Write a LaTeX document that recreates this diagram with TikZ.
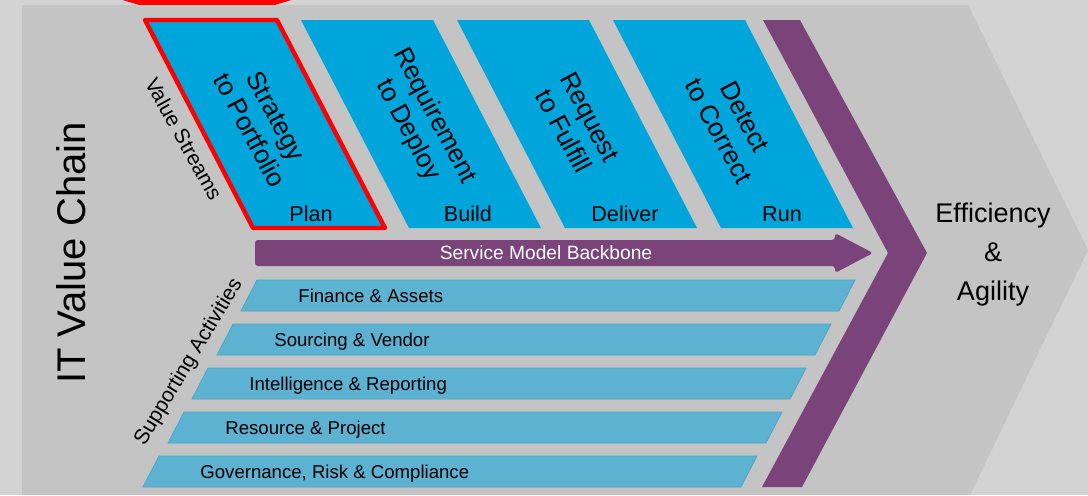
\documentclass[tikz,border=0pt]{standalone}
\usepackage{fontspec}
\setmainfont{Liberation Sans}
\usetikzlibrary{positioning}
\definecolor{pagegrey}{RGB}{211,211,211}
\definecolor{chevgrey}{RGB}{196,196,196}
\definecolor{streamblue}{RGB}{0,165,220}
\definecolor{barblue}{RGB}{94,178,209}
\definecolor{barline}{RGB}{72,168,205}
\definecolor{chainpurple}{RGB}{122,67,122}
\begin{document}
\begin{tikzpicture}[x=0.5pt, y=-0.5pt, node distance=19.5pt,
    stream/.style={fill=streamblue},
    actbar/.style={fill=barblue, draw=barline, line width=0.4pt},
    streamtext/.style={rotate=-62, align=center, font=\fontsize{13}{15}\selectfont},
    phase/.style={font=\fontsize{10.8}{12}\selectfont},
    acttext/.style={anchor=west, inner sep=0pt, text height=8.6pt, text depth=2pt, font=\fontsize{9.3}{11}\selectfont},
    sidelabel/.style={font=\fontsize{10.5}{12}\selectfont},
    outcome/.style={font=\fontsize{13.5}{16}\selectfont, text height=10pt, text depth=3pt}]
	\fill[pagegrey] (0,0) rectangle (1088,495);
	\useasboundingbox (0,0) rectangle (1088,495);
	% big grey chevron
	\fill[chevgrey] (22,5) -- (968,5) -- (1088,250) -- (970,495) -- (22,495) -- cycle;
	\draw[red, line width=2.3pt] (114,-5) -- (139,2.5) -- (275,2.5) -- (300,-5);
	
	% value streams
	\fill[stream] (145,20) -- (277,20) -- (385,228) -- (253,228) -- cycle;
	\draw[red, line width=2.2pt, line join=round] (145,20) -- (277,20) -- (385,228) -- (253,228) -- cycle;
	\fill[stream] (301,20) -- (433,20) -- (541,228) -- (409,228) -- cycle;
	\fill[stream] (457,20) -- (589,20) -- (697,228) -- (565,228) -- cycle;
	\fill[stream] (613,20) -- (745,20) -- (853,228) -- (721,228) -- cycle;
	\node (s2p) [streamtext] at (263,123) {Strategy\\to Portfolio};
	\node (r2d) [streamtext] at (421,123) {Requirement\\to Deploy};
	\node (r2f) [streamtext] at (577,124) {Request\\to Fulfill};
	\node (d2c) [streamtext] at (732,124) {Detect\\to Correct};
	\node (plan) [phase] at (311,214) {Plan};
	\node (build) [phase] at (468,214) {Build};
	\node (deliver) [phase] at (625,214) {Deliver};
	\node (run) [phase] at (782,214) {Run};
	
	% purple chevron and backbone
	\fill[chainpurple] (763,20) -- (800,20) -- (927,253) -- (802,487) -- (762,487) -- (888,253) -- cycle;
	\fill[chainpurple, rounded corners=1.5pt] (255,240) -- (835,240) -- (835,233) -- (873,253) -- (835,273) -- (835,266) -- (255,266) -- cycle;
	\node (backbone) [white, font=\fontsize{9.6}{11}\selectfont] at (546,253) {Service Model Backbone};
	
	% supporting activities
	\fill[actbar] (257,280) -- (855,280) -- (839,311) -- (241,311) -- cycle;
	\fill[actbar] (233,324) -- (831,324) -- (815,355) -- (217,355) -- cycle;
	\fill[actbar] (208,368) -- (806,368) -- (790,399) -- (192,399) -- cycle;
	\fill[actbar] (184,412) -- (782,412) -- (766,443) -- (168,443) -- cycle;
	\fill[actbar] (159,456) -- (757,456) -- (741,487) -- (143,487) -- cycle;
	\node (fin) [acttext] at (298,295.5) {Finance \& Assets};
	\node (src) [acttext] at (274,339.5) {Sourcing \& Vendor};
	\node (intel) [acttext] at (249,383.5) {Intelligence \& Reporting};
	\node (res) [acttext] at (225,427.5) {Resource \& Project};
	\node (grc) [acttext] at (200,471.5) {Governance, Risk \& Compliance};
	
	% side labels
	\node (itvc) [rotate=90, font=\fontsize{20}{24}\selectfont] at (71,253) {IT Value Chain};
	\node (vstreams) [sidelabel, rotate=-61] at (184,139) {Value Streams};
	\node (suppact) [sidelabel, rotate=59] at (189,362) {Supporting Activities};
	
	\node (eff) [outcome] at (993,215) {Efficiency};
	\node (amp) [outcome, below of=eff] {\&};
	\node (agil) [outcome, below of=amp] {Agility};
\end{tikzpicture}
\end{document}
